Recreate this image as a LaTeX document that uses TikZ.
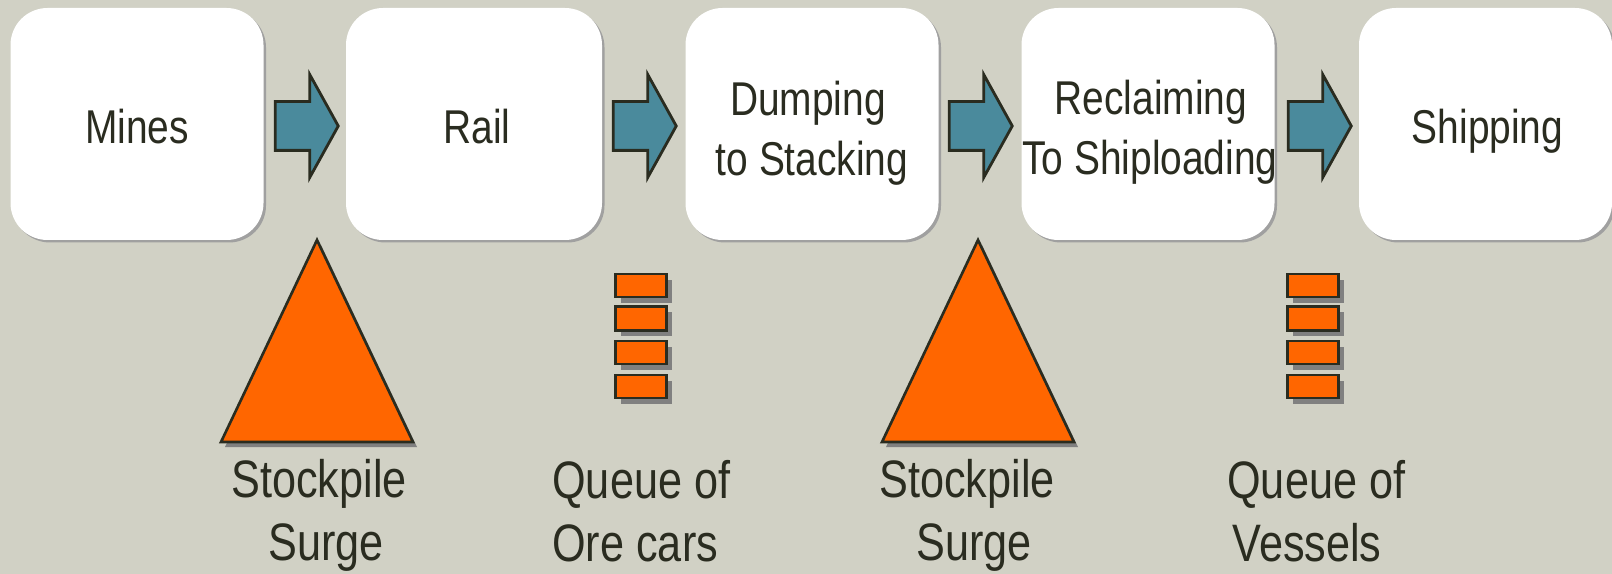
\documentclass[tikz,border=0pt]{standalone}
\usepackage{fontspec}
\setmainfont[FakeStretch=0.82]{Liberation Sans}
\usetikzlibrary{shapes.arrows,shadows}
\definecolor{slidebg}{RGB}{209,209,197}
\definecolor{inkdark}{RGB}{42,44,32}
\definecolor{tealarrow}{RGB}{74,138,156}
\definecolor{orangefill}{RGB}{255,102,0}
\definecolor{boxshadow}{RGB}{160,160,160}
\definecolor{darkshadow}{RGB}{128,128,128}
\tikzset{
  stagebox/.style={rounded corners=37*0.02cm, fill=white, minimum width=253*0.02cm, minimum height=232*0.02cm,
    align=center, inner sep=0pt, text=inkdark, font=\fontsize{27}{34}\selectfont,
    general shadow={fill=boxshadow, shadow xshift=0.05cm, shadow yshift=-0.05cm}},
  flowarrow/.style={single arrow, draw=inkdark, line width=1.6pt, fill=tealarrow, inner xsep=0pt, inner ysep=23*0.02cm,
    minimum height=63*0.02cm, single arrow head extend=27*0.02cm,
    single arrow tip angle=122, single arrow head indent=0pt},
  surgepile/.style={draw=inkdark, line width=1.5pt, fill=orangefill, line join=miter},
  queuecar/.style={draw=inkdark, line width=1.7pt, fill=orangefill, minimum width=51*0.02cm, inner sep=0pt,
    general shadow={fill=darkshadow, shadow xshift=0.1cm, shadow yshift=-0.12cm}},
  sidelabel/.style={align=left, anchor=west, inner sep=0pt, text=inkdark, font=\fontsize{30}{36}\selectfont}
}

\begin{document}
\begin{tikzpicture}[x=0.02cm, y=-0.02cm]
  \fill[slidebg] (0,0) rectangle (1612,574);
  \useasboundingbox (0,0) rectangle (1612,574);
  % stages along the top
  \node[stagebox] (mines) at (137,124) {\rule{0pt}{22.7pt}Mines};
  \node[stagebox, minimum width=256*0.02cm] (rail) at (474,124) {\rule{0pt}{22.7pt}\hspace*{0.12cm}Rail};
  \node[stagebox] (dumping) at (812,124) {\rule{0pt}{30pt}\hspace*{-0.16cm}Dumping\\to Stacking};
  \node[stagebox] (reclaiming) at (1148,124) {\rule{0pt}{29pt}\hspace*{0.12cm}Reclaiming\\\hspace*{0.08cm}\makebox[0pt]{To Shiploading}};
  \node[stagebox] (shipping) at (1485.5,124) {\rule{0pt}{27.3pt}\hspace*{0.08cm}Shipping};
  % arrows between the stages
  \node[flowarrow] (arrow1) at (300,126) {};
  \node[flowarrow] (arrow2) at (638,126) {};
  \node[flowarrow] (arrow3) at (974,126) {};
  \node[flowarrow] (arrow4) at (1313,126) {};
  % stockpiles
  \fill[darkshadow] (321,245) -- (417,447) -- (225,447) -- cycle;
  \draw[surgepile] (317,240) -- (413,442) -- (221,442) -- cycle;
  \fill[darkshadow] (982,245) -- (1078,447) -- (886,447) -- cycle;
  \draw[surgepile] (978,240) -- (1074,442) -- (882,442) -- cycle;
  % queues
  \node[queuecar, minimum height=23*0.02cm] (car1) at (641,285.5) {};
  \node[queuecar, minimum height=24*0.02cm] (car2) at (641,318.5) {};
  \node[queuecar, minimum height=23*0.02cm] (car3) at (641,352.5) {};
  \node[queuecar, minimum height=23*0.02cm] (car4) at (641,386.5) {};
  \node[queuecar, minimum height=23*0.02cm] (vessel1) at (1313,285.5) {};
  \node[queuecar, minimum height=24*0.02cm] (vessel2) at (1313,318.5) {};
  \node[queuecar, minimum height=23*0.02cm] (vessel3) at (1313,352.5) {};
  \node[queuecar, minimum height=23*0.02cm] (vessel4) at (1313,386.5) {};
  % labels under the buffers
  \node[sidelabel] (pile1) at (231,515) {Stockpile\\\hspace*{0.7em}Surge};
  \node[sidelabel] (orecars) at (552,511) {Queue of\\Ore cars};
  \node[sidelabel] (pile2) at (879,515) {Stockpile\\\hspace*{0.7em}Surge};
  \node[sidelabel] (vessels) at (1227,511) {Queue of\\\hspace*{0.1em}Vessels};
\end{tikzpicture}
\end{document}
